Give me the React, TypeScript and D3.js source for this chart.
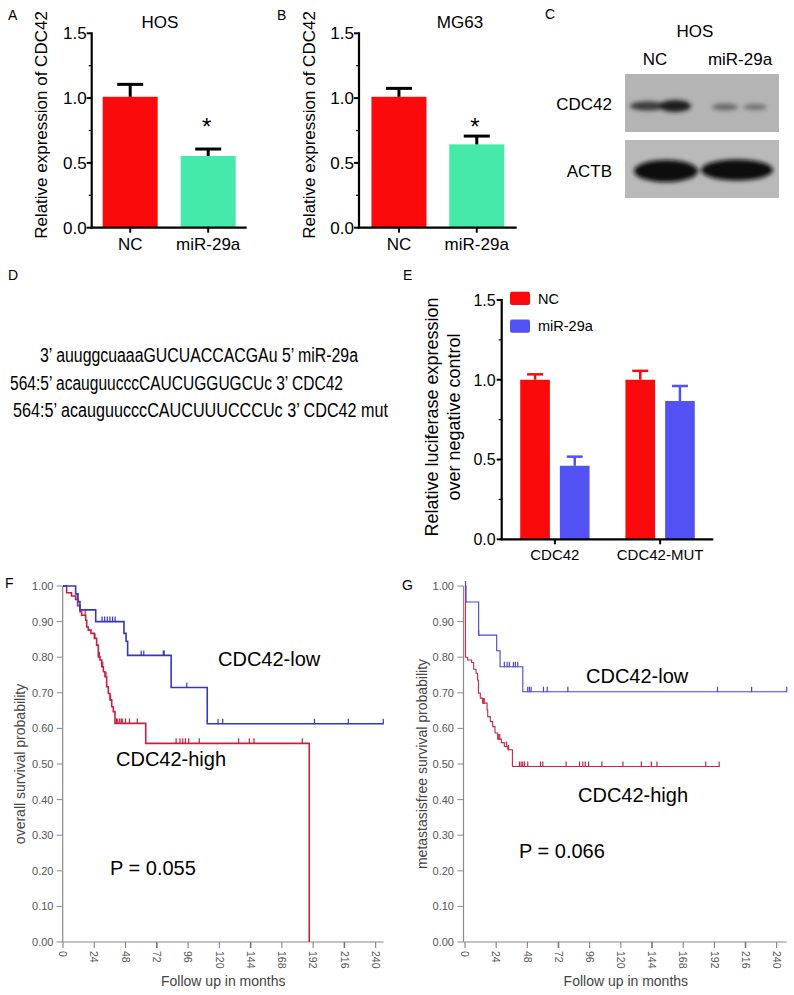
import React from "react";
import * as d3 from "d3";

const FONT = "'Liberation Sans', Arial, Helvetica, sans-serif";

// ---------- Panels A / B ----------
const abCategories = ["NC", "miR-29a"];
const hosMeans = [1.01, 0.553];
const hosErrors = [0.096, 0.054];
const mg63Means = [1.01, 0.643];
const mg63Errors = [0.065, 0.064];
const barMajorTicks = [0, 0.5, 1.0, 1.5];
const barMinorTicks = [0.25, 0.75, 1.25];
const abColors = ["#fa0a0a", "#45eaaa"];

// ---------- Panel E ----------
const lucGroups = ["CDC42", "CDC42-MUT"];
const lucSeries = ["NC", "miR-29a"];
const lucNC = [1.0, 1.0];
const lucNCErr = [0.034, 0.056];
const lucMiR = [0.461, 0.867];
const lucMiRErr = [0.057, 0.094];
const lucColors = ["#fa0a0a", "#5252f5"];

// ---------- Panel D ----------
const seqLines = [
  "3\u2019 auuggcuaaaGUCUACCACGAu 5\u2019 miR-29a",
  "564:5\u2019 acauguucccCAUCUGGUGCUc 3\u2019 CDC42",
  "564:5\u2019 acauguucccCAUCUUUCCCUc 3\u2019 CDC42 mut",
];

// ---------- Panels F / G (Kaplan-Meier) ----------
const kmMonthTicks = [0, 24, 48, 72, 96, 120, 144, 168, 192, 216, 240];
const kmProbTicks = [0, 0.1, 0.2, 0.3, 0.4, 0.5, 0.6, 0.7, 0.8, 0.9, 1.0];

const fLowSteps: [number, number][] = [
  [0, 1.0], [9.7, 0.978], [11.5, 0.956], [13, 0.933], [25.1, 0.9],
  [46.8, 0.867], [48.4, 0.845], [49.6, 0.805], [83, 0.715], [110.7, 0.613],
];
const fLowEnd = 246;
const fLowCensor = [30, 32, 34, 36, 38, 40, 60, 62, 77, 77.7, 95, 119, 122.6, 193, 219, 245.8];

const fHighSteps: [number, number][] = [
  [0, 1.0], [2.8, 0.981], [6.5, 0.972], [9.7, 0.962], [11.2, 0.945], [13, 0.928],
  [14.3, 0.918], [17.4, 0.904], [18.2, 0.885], [19.4, 0.876], [21.5, 0.867],
  [24.1, 0.853], [25.8, 0.834], [27.1, 0.801], [28.4, 0.792], [29.7, 0.773],
  [31, 0.759], [32.2, 0.745], [33.5, 0.717], [34.8, 0.698], [36.1, 0.68],
  [37.4, 0.661], [38.6, 0.647], [39.9, 0.614], [63.5, 0.558], [189, 0],
];
const fHighEnd = 189;
const fHighCensor = [11, 17, 24.5, 28, 30.5, 33, 36.5, 41, 42, 43.5, 44.7, 45.5, 48, 51, 57,
  86.8, 89.8, 91.9, 93.9, 96.5, 104.6, 134.8, 143, 146.6, 183.7];

const gLowSteps: [number, number][] = [
  [0, 1.0], [0.8, 0.955], [10.5, 0.862], [24.4, 0.818], [27, 0.773], [44.5, 0.703],
];
const gLowEnd = 247.7;
const gLowCensor = [0.4, 10.5, 30.3, 32.4, 34.2, 37.3, 38.8, 40.6, 48.3, 49.6, 50.9, 60.4, 63.3, 79.2, 194.4, 220.7, 247.7];

const gHighSteps: [number, number][] = [
  [0, 1.0], [0.3, 0.8], [2, 0.792], [5.1, 0.785], [6.7, 0.766], [8.5, 0.755],
  [9.7, 0.736], [10.3, 0.699], [11.8, 0.685], [13.6, 0.671], [17, 0.652],
  [17.5, 0.633], [19.5, 0.619], [21.3, 0.605], [23.1, 0.587], [25.2, 0.57],
  [28, 0.56], [30.3, 0.549], [33, 0.54], [36.5, 0.493],
];
const gHighEnd = 195.7;
const gHighCensor = [14, 14.8, 26, 26.8, 32, 33.5, 41.9, 43.2, 44.4, 45.8, 48.3, 58.1, 59.9, 77.9,
  88.2, 90.7, 92.6, 95.1, 105.4, 121.6, 135.8, 143.5, 147.8, 185.4, 195.7];

// ---------- helpers ----------
function survivalAt(steps: [number, number][], t: number) {
  let v = steps[0][1];
  for (const [m, s] of steps) if (m <= t) v = s;
  return v;
}

type BarProps = {
  axisX: number; axisEnd: number; yBottom: number; yTop: number;
  cats: string[]; means: number[]; errs: number[];
  padIn: number; padOut: number; title: string; titleX: number;
  ylabelX: number; starX: number; starY: number;
};

function SimpleBar(p: BarProps) {
  const y = d3.scaleLinear().domain([0, 1.5]).range([p.yBottom, p.yTop]);
  const x = d3.scaleBand().domain(p.cats).range([p.axisX, p.axisEnd]).paddingInner(p.padIn).paddingOuter(p.padOut);
  const bw = x.bandwidth();
  return (
    <g fontFamily={FONT}>
      <text x={p.titleX} y={28} fontSize={17} textAnchor="middle">{p.title}</text>
      {p.cats.map((c, i) => {
        const x0 = x(c)!;
        const cx = x0 + bw / 2;
        return (
          <g key={c}>
            <rect x={x0} y={y(p.means[i])} width={bw} height={y(0) - y(p.means[i])} fill={abColors[i]} />
            <line x1={cx} x2={cx} y1={y(p.means[i])} y2={y(p.means[i] + p.errs[i])} stroke="#000" strokeWidth={3} />
            <line x1={cx - 13} x2={cx + 13} y1={y(p.means[i] + p.errs[i])} y2={y(p.means[i] + p.errs[i])} stroke="#000" strokeWidth={3} />
            <line x1={cx} x2={cx} y1={y(0)} y2={y(0) + 5} stroke="#000" strokeWidth={2} />
            <text x={cx} y={y(0) + 22} fontSize={17} textAnchor="middle">{c}</text>
          </g>
        );
      })}
      <line x1={p.axisX} x2={p.axisX} y1={y(1.5) - 1} y2={y(0) + 1} stroke="#000" strokeWidth={2.2} />
      <line x1={p.axisX - 1} x2={p.axisEnd} y1={y(0)} y2={y(0)} stroke="#000" strokeWidth={2.2} />
      {barMajorTicks.map((t) => (
        <g key={t}>
          <line x1={p.axisX - 5} x2={p.axisX} y1={y(t)} y2={y(t)} stroke="#000" strokeWidth={2} />
          <text x={p.axisX - 5} y={y(t)} dy="0.36em" fontSize={17} textAnchor="end">{d3.format(".1f")(t)}</text>
        </g>
      ))}
      {barMinorTicks.map((t) => (
        <line key={t} x1={p.axisX - 3} x2={p.axisX} y1={y(t)} y2={y(t)} stroke="#000" strokeWidth={1.2} />
      ))}
      <text transform={`translate(${p.ylabelX},${125}) rotate(-90)`} fontSize={17} textAnchor="middle">Relative expression of CDC42</text>
      <text x={p.starX} y={p.starY} fontSize={24} textAnchor="middle">*</text>
    </g>
  );
}

function LucBar() {
  const axisX = 501.7, axisEnd = 713.3;
  const y = d3.scaleLinear().domain([0, 1.5]).range([539.3, 300]);
  const x0 = d3.scaleBand().domain(lucGroups).range([axisX, axisEnd]).paddingInner(0.341).paddingOuter(0.176);
  const x1 = d3.scaleBand().domain(lucSeries).range([0, x0.bandwidth()]).paddingInner(0.252).paddingOuter(0);
  const vals = [lucNC, lucMiR];
  const errs = [lucNCErr, lucMiRErr];
  const bw = x1.bandwidth();
  return (
    <g fontFamily={FONT}>
      {lucGroups.map((g, gi) => (
        <g key={g}>
          {lucSeries.map((s, si) => {
            const bx = x0(g)! + x1(s)!;
            const cx = bx + bw / 2;
            const v = vals[si][gi];
            const e = errs[si][gi];
            return (
              <g key={s}>
                <rect x={bx} y={y(v)} width={bw} height={y(0) - y(v)} fill={lucColors[si]} />
                <line x1={cx} x2={cx} y1={y(v)} y2={y(v + e)} stroke={lucColors[si]} strokeWidth={2.5} />
                <line x1={cx - 8} x2={cx + 8} y1={y(v + e)} y2={y(v + e)} stroke={lucColors[si]} strokeWidth={2.5} />
              </g>
            );
          })}
          <line x1={x0(g)! + x0.bandwidth() / 2} x2={x0(g)! + x0.bandwidth() / 2} y1={y(0)} y2={y(0) + 5} stroke="#000" strokeWidth={2} />
          <text x={x0(g)! + x0.bandwidth() / 2} y={560} fontSize={15} textAnchor="middle">{g}</text>
        </g>
      ))}
      <line x1={axisX} x2={axisX} y1={y(1.5) - 1} y2={y(0) + 1} stroke="#000" strokeWidth={2.2} />
      <line x1={axisX - 1} x2={axisEnd} y1={y(0)} y2={y(0)} stroke="#000" strokeWidth={2.2} />
      {barMajorTicks.map((t) => (
        <g key={t}>
          <line x1={axisX - 5} x2={axisX} y1={y(t)} y2={y(t)} stroke="#000" strokeWidth={2} />
          <text x={axisX - 6} y={y(t)} dy="0.36em" fontSize={16} textAnchor="end">{d3.format(".1f")(t)}</text>
        </g>
      ))}
      {barMinorTicks.map((t) => (
        <line key={t} x1={axisX - 3} x2={axisX} y1={y(t)} y2={y(t)} stroke="#000" strokeWidth={1.2} />
      ))}
      <text transform="translate(438,417) rotate(-90)" fontSize={18} textAnchor="middle">Relative luciferase expression</text>
      <text transform="translate(460,417) rotate(-90)" fontSize={18} textAnchor="middle">over negative control</text>
      {lucSeries.map((s, i) => (
        <g key={s}>
          <rect x={510} y={291.7 + i * 27.7} width={20} height={13.3} rx={2} fill={lucColors[i]} />
          <text x={538} y={298.3 + i * 27.7} dy="0.36em" fontSize={14.5}>{s}</text>
        </g>
      ))}
    </g>
  );
}

type KMProps = {
  axisX: number; zeroX: number; x240: number; endMonth: number;
  ylabel: string; ylabelX: number; labelRight: number;
  low: [number, number][]; lowEnd: number; lowCensor: number[];
  high: [number, number][]; highEnd: number; highCensor: number[];
  lowColor: string; highColor: string; lw: number;
  lowText: [number, number]; highText: [number, number]; pText: [number, number]; pLabel: string;
};

function KM(p: KMProps) {
  const x = d3.scaleLinear().domain([0, 240]).range([p.zeroX, p.x240]);
  const y = d3.scaleLinear().domain([0, 1]).range([942, 586]);
  const line = d3.line<[number, number]>().x((d) => x(d[0])).y((d) => y(d[1])).curve(d3.curveStepAfter);
  const lowPts: [number, number][] = [...p.low, [p.lowEnd, p.low[p.low.length - 1][1]]];
  const lastHigh = p.high[p.high.length - 1];
  const highPts: [number, number][] = lastHigh[0] === p.highEnd ? p.high : [...p.high, [p.highEnd, lastHigh[1]]];
  const censor = (steps: [number, number][], ts: number[], color: string, k: string) =>
    ts.map((t, i) => {
      const s = survivalAt(steps, t);
      return <line key={k + i} x1={x(t)} x2={x(t)} y1={y(s) - 5} y2={y(s) + 0.5} stroke={color} strokeWidth={1.2} />;
    });
  return (
    <g fontFamily={FONT}>
      <line x1={p.axisX} x2={p.axisX} y1={586} y2={942} stroke="#8a8a8a" strokeWidth={1.2} />
      <line x1={p.axisX} x2={x(p.endMonth)} y1={942} y2={942} stroke="#8a8a8a" strokeWidth={1.2} />
      {kmProbTicks.map((t) => (
        <g key={t}>
          <line x1={p.axisX - 6} x2={p.axisX} y1={y(t)} y2={y(t)} stroke="#8a8a8a" strokeWidth={1} />
          <text x={p.labelRight} y={y(t)} dy="0.36em" fontSize={11} fill="#555" textAnchor="end">{d3.format(".2f")(t)}</text>
        </g>
      ))}
      {kmMonthTicks.map((t) => (
        <g key={t}>
          <line x1={x(t)} x2={x(t)} y1={942} y2={948} stroke="#777" strokeWidth={t % 72 === 0 && t > 0 ? 1.6 : 1} />
          <text transform={`translate(${x(t)},951) rotate(90)`} dy="0.36em" fontSize={10.5} fill="#555">{t}</text>
        </g>
      ))}
      <text x={(p.zeroX + x(p.endMonth)) / 2} y={986} fontSize={14} fill="#444" textAnchor="middle">Follow up in months</text>
      <text transform={`translate(${p.ylabelX},764) rotate(-90)`} fontSize={14} fill="#444" textAnchor="middle">{p.ylabel}</text>
      <path d={line(highPts) || ""} fill="none" stroke={p.highColor} strokeWidth={p.lw} />
      {censor(p.high, p.highCensor, p.highColor, "h")}
      <path d={line(lowPts) || ""} fill="none" stroke={p.lowColor} strokeWidth={p.lw} />
      {censor(p.low, p.lowCensor, p.lowColor, "l")}
      <text x={p.lowText[0]} y={p.lowText[1]} fontSize={20}>CDC42-low</text>
      <text x={p.highText[0]} y={p.highText[1]} fontSize={20}>CDC42-high</text>
      <text x={p.pText[0]} y={p.pText[1]} fontSize={20}>{p.pLabel}</text>
    </g>
  );
}

function Blot() {
  return (
    <g fontFamily={FONT}>
      <defs>
        <filter id="blur4" x="-30%" y="-80%" width="160%" height="260%">
          <feGaussianBlur stdDeviation="3" />
        </filter>
        <filter id="blur2" x="-30%" y="-80%" width="160%" height="260%">
          <feGaussianBlur stdDeviation="2.2" />
        </filter>
      </defs>
      <text x={695} y={37} fontSize={17} textAnchor="middle">HOS</text>
      <text x={655} y={65} fontSize={17} textAnchor="middle">NC</text>
      <text x={740} y={65} fontSize={17} textAnchor="middle">miR-29a</text>
      <rect x={625} y={74} width={154} height={58} fill="#b4b4b4" />
      <rect x={625} y={140} width={154} height={58} fill="#b9b9b9" />
      <text x={612} y={110} fontSize={17} textAnchor="end">CDC42</text>
      <text x={612} y={177} fontSize={17} textAnchor="end">ACTB</text>
      <g filter="url(#blur2)">
        <ellipse cx={648} cy={106} rx={18} ry={4.5} fill="#3a3a3a" />
        <ellipse cx={675} cy={106} rx={16} ry={6} fill="#1e1e1e" />
        <ellipse cx={725} cy={107} rx={13} ry={3.5} fill="#6a6a6a" />
        <ellipse cx={755} cy={107} rx={12} ry={3} fill="#707070" />
      </g>
      <g filter="url(#blur2)">
        <ellipse cx={666} cy={171} rx={32} ry={11} fill="#0c0c0c" />
        <ellipse cx={737} cy={170} rx={36} ry={10.5} fill="#0c0c0c" />
      </g>
    </g>
  );
}

export default function App() {
  return (
    <svg width={794} height={995} viewBox="0 0 794 995" style={{ position: "absolute", left: 0, top: 0, background: "#fff" }}>
      <rect x={0} y={0} width={794} height={995} fill="#fff" />
      <g fontFamily={FONT} fontSize={14}>
        <text x={8} y={20}>A</text>
        <text x={277} y={20}>B</text>
        <text x={545} y={19}>C</text>
        <text x={8} y={280}>D</text>
        <text x={403} y={280}>E</text>
        <text x={5} y={588}>F</text>
        <text x={402} y={590}>G</text>
      </g>
      <SimpleBar axisX={91.7} axisEnd={246.7} yBottom={227.7} yTop={33.3} cats={abCategories}
        means={hosMeans} errs={hosErrors} padIn={0.295} padOut={0.141} title="HOS" titleX={160}
        ylabelX={47} starX={206.7} starY={135} />
      <SimpleBar axisX={359} axisEnd={516.7} yBottom={227.7} yTop={33.3} cats={abCategories}
        means={mg63Means} errs={mg63Errors} padIn={0.293} padOut={0.16} title="MG63" titleX={460}
        ylabelX={315} starX={475} starY={135} />
      <Blot />
      <g fontFamily={FONT} fontSize={20}>
        <text x={40} y={362} textLength={318} lengthAdjust="spacingAndGlyphs">{seqLines[0]}</text>
        <text x={10} y={390} textLength={333} lengthAdjust="spacingAndGlyphs">{seqLines[1]}</text>
        <text x={13} y={417} textLength={375} lengthAdjust="spacingAndGlyphs">{seqLines[2]}</text>
      </g>
      <LucBar />
      <KM axisX={62.7} zeroX={63} x240={375.7} endMonth={246} ylabel="overall survival probability" ylabelX={25}
        labelRight={53.5} low={fLowSteps} lowEnd={fLowEnd} lowCensor={fLowCensor}
        high={fHighSteps} highEnd={fHighEnd} highCensor={fHighCensor}
        lowColor="#3535c8" highColor="#c8203c" lw={1.6}
        lowText={[218, 666]} highText={[116, 766]} pText={[110, 875]} pLabel="P = 0.055" />
      <KM axisX={463.5} zeroX={465} x240={776.7} endMonth={247.7} ylabel="metastasisfree survival probability" ylabelX={427}
        labelRight={454} low={gLowSteps} lowEnd={gLowEnd} lowCensor={gLowCensor}
        high={gHighSteps} highEnd={gHighEnd} highCensor={gHighCensor}
        lowColor="#4646d8" highColor="#cc2244" lw={1.1}
        lowText={[586, 683]} highText={[578, 802]} pText={[519, 858]} pLabel="P = 0.066" />
    </svg>
  );
}
